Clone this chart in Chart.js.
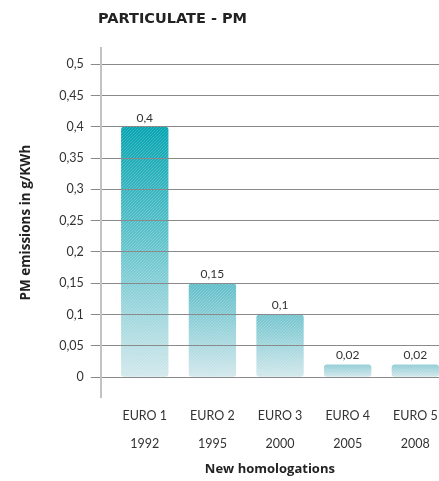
<!DOCTYPE html>
<html>
<head>
<meta charset="utf-8">
<script src="https://cdn.jsdelivr.net/npm/chart.js@4.4.0/dist/chart.umd.min.js"></script>
<style>
  html, body { margin: 0; padding: 0; background: #fff; }
  #wrap { width: 439px; height: 481px; position: relative; }
</style>
</head>
<body>
<div id="wrap"><canvas id="pmChart"></canvas></div>
<script>
// chart data
const categories = ["EURO 1", "EURO 2", "EURO 3", "EURO 4", "EURO 5"];
const years = ["1992", "1995", "2000", "2005", "2008"];
const pmValues = [0.4, 0.15, 0.1, 0.02, 0.02];
const yTicks = [0, 0.05, 0.1, 0.15, 0.2, 0.25, 0.3, 0.35, 0.4, 0.45, 0.5];

const FONT = "Lato, 'Open Sans', sans-serif";
const BOLD = "'Open Sans', Lato, sans-serif";
const CAT_PCT = 0.7;

// turns 0.15 into "0,15"
function comma(v) {
  return String(parseFloat(v.toFixed(2))).replace('.', ',');
}

function mix(a, b, t) {
  return 'rgb(' + [0, 1, 2].map(function(k) { return Math.round(a[k] + (b[k] - a[k]) * t); }).join(',') + ')';
}
const LOW = [150, 206, 215], HIGH = [5, 164, 177], BOTTOM = [210, 232, 236];

var barPattern = '#5fb8c4';
// build one full-canvas fill: per-bar gradient + thin diagonal stripes
const fillBuilder = {
  id: 'fillBuilder',
  afterLayout(chart) {
    const xs = chart.scales.x, ys = chart.scales.y;
    const off = document.createElement('canvas');
    off.width = chart.width;
    off.height = chart.height;
    const c = off.getContext('2d');
    const w = (xs.getPixelForValue(1) - xs.getPixelForValue(0)) * CAT_PCT + 4;
    const base = ys.getPixelForValue(0);
    pmValues.forEach(function(v, i) {
      const x = xs.getPixelForValue(i);
      const top = ys.getPixelForValue(v);
      const g = c.createLinearGradient(0, top, 0, base);
      g.addColorStop(0, mix(LOW, HIGH, Math.min(1, v / 0.4)));
      g.addColorStop(1, mix(BOTTOM, BOTTOM, 0));
      c.fillStyle = g;
      c.fillRect(x - w / 2, top - 2, w, base - top + 4);
    });
    c.globalCompositeOperation = 'source-atop';
    c.strokeStyle = 'rgba(255,255,255,0.2)';
    c.lineWidth = 1;
    for (var i = -off.height; i < off.width; i += 3) {
      c.beginPath();
      c.moveTo(i, off.height);
      c.lineTo(i + off.height, 0);
      c.stroke();
    }
    barPattern = chart.ctx.createPattern(off, 'no-repeat');
  }
};

// value labels above the bars + title at top left
const extras = {
  id: 'extras',
  afterDatasetsDraw(chart) {
    const ctx = chart.ctx;
    const meta = chart.getDatasetMeta(0);
    ctx.save();
    ctx.fillStyle = '#333';
    ctx.font = '12px ' + FONT;
    ctx.textAlign = 'center';
    ctx.textBaseline = 'bottom';
    meta.data.forEach(function(bar, i) {
      ctx.fillText(comma(pmValues[i]), bar.x, bar.y - 3);
    });
    ctx.font = "bold 14.5px 'DejaVu Sans', sans-serif";
    ctx.fillStyle = '#222';
    ctx.textAlign = 'left';
    ctx.textBaseline = 'middle';
    ctx.fillText('PARTICULATE - PM', 98, 19);
    ctx.restore();
  }
};

new Chart(document.getElementById('pmChart'), {
  type: 'bar',
  data: {
    datasets: [{
      data: pmValues.map(function(v, i) { return { x: i, y: v }; }),
      backgroundColor: function() { return barPattern; },
      borderRadius: 3,
      borderSkipped: false,
      categoryPercentage: CAT_PCT,
      barPercentage: 1
    }]
  },
  options: {
    responsive: true,
    maintainAspectRatio: false,
    animation: false,
    layout: { padding: { top: 48, left: 18, right: 0, bottom: 4 } },
    plugins: {
      legend: { display: false },
      tooltip: { enabled: false }
    },
    scales: {
      x: {
        type: 'linear',
        min: -0.65,
        max: 4.35,
        offset: false,
        afterBuildTicks: function(scale) {
          scale.ticks = categories.map(function(c, i) { return { value: i }; });
        },
        grid: { display: false },
        border: { display: false },
        ticks: {
          color: '#333',
          font: { family: FONT, size: 12.5, lineHeight: 2.25 },
          padding: -3,
          maxRotation: 0,
          autoSkip: false,
          callback: function(v) { return [categories[v], years[v]]; }
        },
        title: {
          display: true,
          text: 'New homologations',
          color: '#222',
          font: { family: BOLD, size: 13, weight: 'bold' },
          padding: { top: 6, bottom: 0 }
        }
      },
      y: {
        min: -0.032,
        max: 0.526,
        afterBuildTicks: function(scale) {
          scale.ticks = yTicks.map(function(v) { return { value: v }; });
        },
        grid: {
          color: '#8a8a8a',
          lineWidth: 1,
          tickLength: 10,
          drawTicks: true,
          z: 1
        },
        border: { display: true, color: '#c2c2c2', width: 2, z: 1 },
        ticks: {
          color: '#333',
          font: { family: FONT, size: 12.5 },
          padding: 7,
          callback: function(v) { return comma(v); }
        },
        title: {
          display: true,
          text: 'PM emissions in g/KWh',
          color: '#222',
          font: { family: BOLD, size: 13.5, weight: 'bold' },
          padding: { top: 0, bottom: 18 }
        }
      }
    }
  },
  plugins: [fillBuilder, extras]
});
</script>
</body>
</html>
